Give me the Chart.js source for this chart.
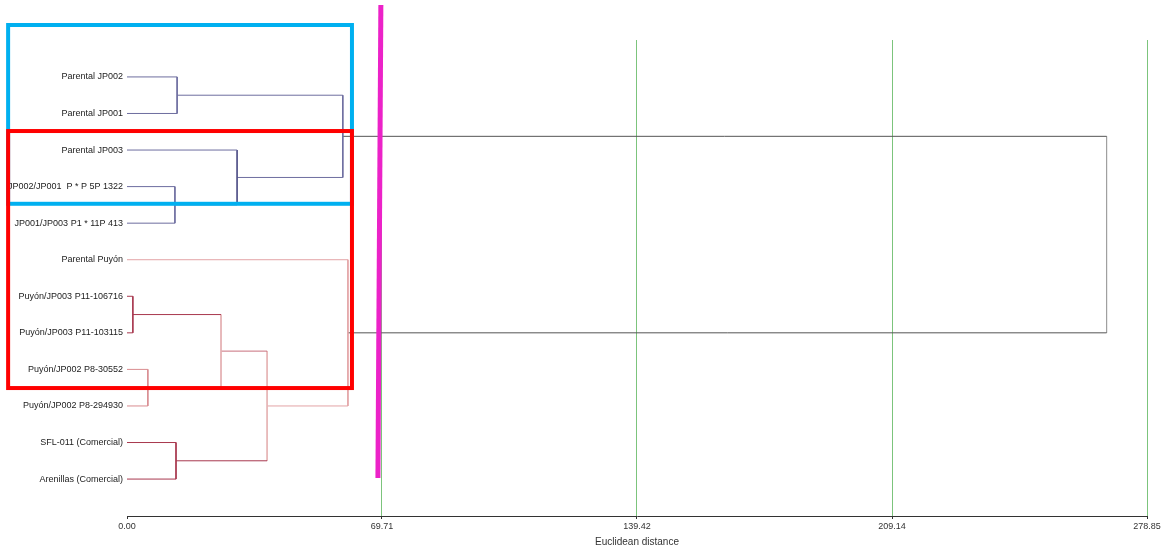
<!DOCTYPE html>
<html>
<head>
<meta charset="utf-8">
<script src="https://cdn.jsdelivr.net/npm/chart.js@4.4.1/dist/chart.umd.min.js"></script>
<style>
  body { margin: 0; background: #fff; }
  #wrap { width: 1163px; height: 551px; }
</style>
</head>
<body>
<div id="wrap"><canvas id="dendro" width="1163" height="551"></canvas></div>
<script>
// leaves, top to bottom (index 0..11)
const leafNames = [
  "Parental JP002",
  "Parental JP001",
  "Parental JP003",
  "JP002/JP001  P * P 5P 1322",
  "JP001/JP003 P1 * 11P 413",
  "Parental Puyón",
  "Puyón/JP003 P11-106716",
  "Puyón/JP003 P11-103115",
  "Puyón/JP002 P8-30552",
  "Puyón/JP002 P8-294930",
  "SFL-011 (Comercial)",
  "Arenillas (Comercial)"
];

// merge i creates node 12 + i from mergeLeft[i] and mergeRight[i]
const mergeLeft   = [6, 8, 3, 10, 0, 12, 2, 17, 16, 5, 20];
const mergeRight  = [7, 9, 4, 11, 1, 13, 14, 15, 18, 19, 21];
const mergeHeight = [1.6, 5.7, 13.1, 13.4, 13.7, 25.7, 30.1, 38.3, 59.0, 60.4, 267.8];

const distTicks = [0, 69.71, 139.42, 209.14, 278.85];

// highlight marks drawn over the dendrogram (distance / leaf units)
const boxLeft   = [-32.5, -32.5];
const boxRight  = [61.5, 61.5];
const boxTop    = [-1.42, 1.48];
const boxBottom = [3.47, 8.51];
const cutTop    = [69.4, -1.97];
const cutBottom = [68.6, 10.97];

// styles
const BLUE = "#6d6d9f", DKRED = "#a8384e", PINK = "#d98c90", LTPINK = "#e3a3a6", GREY = "#555555";
// colour of the horizontal arm from each node to its parent (leaves then merges)
const armColor = [BLUE, BLUE, BLUE, BLUE, BLUE, LTPINK, DKRED, DKRED, PINK, PINK, DKRED, DKRED,
  DKRED, "#e0a4a6", BLUE, DKRED, BLUE, "#c8707c", BLUE, LTPINK, GREY, GREY, GREY];
// colour of the vertical bar of each merge
const barColor = [DKRED, PINK, BLUE, DKRED, BLUE, "#e4b0b2", "#55558a", "#e6b4b6", BLUE, LTPINK, "#a0a0a0"];
const boxColor = ["#00b0f0", "#ff0000"];
const FONT = "'Liberation Sans', Arial, sans-serif";

// node heights and leaf positions
const nodeH = leafNames.map(() => 0);
const nodeY = leafNames.map((_, i) => i);
mergeHeight.forEach((h, i) => {
  nodeH.push(h);
  nodeY.push((nodeY[mergeLeft[i]] + nodeY[mergeRight[i]]) / 2);
});

const segments = [];
mergeHeight.forEach((h, i) => {
  [mergeLeft[i], mergeRight[i]].forEach(c => {
    segments.push({ pts: [{ x: nodeH[c], y: nodeY[c] }, { x: h, y: nodeY[c] }], color: armColor[c] });
  });
  segments.push({ pts: [{ x: h, y: nodeY[mergeLeft[i]] }, { x: h, y: nodeY[mergeRight[i]] }], color: barColor[i] });
});

const highlights = {
  id: "highlights",
  beforeDraw(chart) {
    const c = chart.ctx;
    c.save();
    c.fillStyle = "#fff";
    c.fillRect(0, 0, chart.width, chart.height);
    c.restore();
  },
  afterDraw(chart) {
    const c = chart.ctx, xs = chart.scales.x, ys = chart.scales.y;
    c.save();
    c.lineWidth = 4;
    boxLeft.forEach((_, i) => {
      const x0 = xs.getPixelForValue(boxLeft[i]), x1 = xs.getPixelForValue(boxRight[i]);
      const y0 = ys.getPixelForValue(boxTop[i]), y1 = ys.getPixelForValue(boxBottom[i]);
      c.strokeStyle = boxColor[i];
      c.strokeRect(x0, y0, x1 - x0, y1 - y0);
    });
    c.strokeStyle = "#ec22c8";
    c.lineWidth = 5;
    c.beginPath();
    c.moveTo(xs.getPixelForValue(cutTop[0]), ys.getPixelForValue(cutTop[1]));
    c.lineTo(xs.getPixelForValue(cutBottom[0]), ys.getPixelForValue(cutBottom[1]));
    c.stroke();
    c.restore();
  }
};

new Chart(document.getElementById("dendro"), {
  type: "scatter",
  data: {
    datasets: segments.map(s => ({
      data: s.pts,
      showLine: true,
      borderColor: s.color,
      borderWidth: 1,
      pointRadius: 0,
      fill: false,
      clip: false
    }))
  },
  options: {
    responsive: false,
    animation: false,
    layout: { padding: { top: 40, right: 16, left: 0, bottom: 0 } },
    plugins: { legend: { display: false }, tooltip: { enabled: false } },
    scales: {
      x: {
        type: "linear",
        min: 0,
        max: 278.85,
        afterBuildTicks: s => { s.ticks = distTicks.map(v => ({ value: v })); },
        afterFit: s => { s.height = 35; },
        ticks: {
          autoSkip: false, maxRotation: 0, padding: 2, color: "#333",
          font: { family: FONT, size: 9 },
          callback: v => Number(v).toFixed(2)
        },
        grid: {
          color: ctx => (ctx.tick && ctx.tick.value === 0) ? "rgba(0,0,0,0)" : "#7cc47c",
          tickColor: "#333",
          tickLength: 3
        },
        border: { color: "#333", width: 1 },
        title: {
          display: true, text: "Euclidean distance", color: "#333",
          font: { family: FONT, size: 10 }, padding: { top: 0, bottom: 3 }
        }
      },
      y: {
        type: "linear",
        reverse: true,
        min: -1.01,
        max: 12.01,
        afterBuildTicks: s => { s.ticks = leafNames.map((_, i) => ({ value: i })); },
        afterFit: s => { s.width = 127; },
        ticks: {
          autoSkip: false, padding: 4, color: "#222",
          font: { family: FONT, size: 9 },
          callback: (v, i) => leafNames[i]
        },
        grid: { display: false, drawTicks: false },
        border: { display: false }
      }
    }
  },
  plugins: [highlights]
});
</script>
</body>
</html>
